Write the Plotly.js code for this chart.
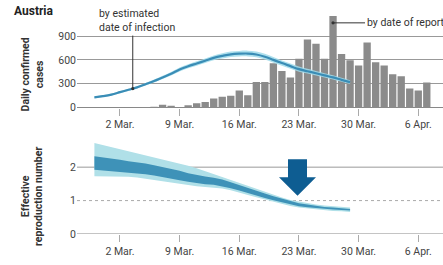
<!DOCTYPE html>
<html>
<head>
<meta charset="utf-8">
<script src="https://cdn.plot.ly/plotly-3.0.1.min.js"></script>
<style>html,body{margin:0;padding:0;background:#fff;}#chart{width:443px;height:265px;}</style>
</head>
<body>
<div id="chart"></div>
<script>
// ---- data ----
const barStart = '2020-02-27';
const reportedCases = [1,2,3,2,4,3,5,6,12,37,25,3,30,55,71,117,137,150,215,157,323,323,559,461,380,615,857,802,615,1150,675,596,530,817,571,530,421,396,242,217,317];
const curveStart = '2020-02-28';
const infectionCases = [130,145,165,195,225,255,295,335,380,425,480,520,555,590,625,650,670,678,680,668,640,600,560,522,484,458,432,405,380,350,322];
const infectionUpper = [140,155,177,207,239,270,311,353,400,447,504,545,582,618,655,682,704,713,716,704,676,635,594,555,516,488,460,432,406,375,346];
const infectionLower = [120,135,153,183,211,240,279,317,360,403,456,495,528,562,595,618,636,643,644,632,604,565,526,489,452,428,404,378,354,325,298];
const rDarkLow  = [1.92,1.90,1.88,1.86,1.84,1.82,1.79,1.75,1.71,1.66,1.61,1.56,1.52,1.49,1.47,1.43,1.37,1.30,1.22,1.15,1.08,1.01,0.95,0.88,0.83,0.80,0.77,0.75,0.73,0.72,0.70];
const rDarkHigh = [2.33,2.30,2.26,2.22,2.18,2.15,2.11,2.06,2.01,1.95,1.89,1.82,1.76,1.72,1.68,1.63,1.55,1.46,1.37,1.29,1.21,1.13,1.06,0.98,0.92,0.88,0.84,0.81,0.79,0.77,0.75];
const rLightLow = [1.73,1.73,1.72,1.72,1.71,1.69,1.66,1.62,1.58,1.54,1.50,1.46,1.43,1.41,1.39,1.36,1.31,1.25,1.17,1.10,1.03,0.96,0.90,0.84,0.79,0.76,0.73,0.71,0.69,0.68,0.66];
const rLightHigh= [2.72,2.66,2.60,2.54,2.48,2.42,2.36,2.30,2.24,2.17,2.10,2.04,1.97,1.88,1.80,1.72,1.63,1.53,1.44,1.35,1.26,1.17,1.09,1.02,0.97,0.92,0.88,0.85,0.83,0.81,0.79];
const tickDates = ['2020-03-02','2020-03-09','2020-03-16','2020-03-23','2020-03-30','2020-04-06'];
const tickText = ['2 Mar.','9 Mar.','16 Mar.','23 Mar.','30 Mar.','6 Apr.'];
const casesTicks = [0,300,600,900];
const rTicks = [0,1,2];

function days(start, n){
  const out=[]; const d0=new Date(start+'T00:00:00Z');
  for(let i=0;i<n;i++){const d=new Date(d0.getTime()+i*86400000);out.push(d.toISOString().slice(0,10));}
  return out;
}
const barDates = days(barStart, reportedCases.length);
const curveDates = days(curveStart, infectionCases.length);

const FONT = 'Roboto, "Open Sans", sans-serif';
const xr = ['2020-02-25 23:00','2020-04-08 21:40'];

const traces = [
  {type:'bar', x:barDates, y:reportedCases, xaxis:'x', yaxis:'y', marker:{color:'#8b8b8b'}, hoverinfo:'skip'},
  {type:'scatter', mode:'lines', x:curveDates, y:infectionLower, xaxis:'x', yaxis:'y', line:{width:0, shape:'spline'}, hoverinfo:'skip'},
  {type:'scatter', mode:'lines', x:curveDates, y:infectionUpper, xaxis:'x', yaxis:'y', line:{width:0, shape:'spline'}, fill:'tonexty', fillcolor:'rgba(160,218,234,0.85)', hoverinfo:'skip'},
  {type:'scatter', mode:'lines', x:curveDates, y:infectionCases, xaxis:'x', yaxis:'y', line:{width:2.2, color:'#3a8db6', shape:'spline'}, hoverinfo:'skip'},
  {type:'scatter', mode:'lines', x:curveDates, y:rLightLow, xaxis:'x2', yaxis:'y2', line:{width:0}, hoverinfo:'skip'},
  {type:'scatter', mode:'lines', x:curveDates, y:rLightHigh, xaxis:'x2', yaxis:'y2', line:{width:0}, fill:'tonexty', fillcolor:'#b0e0e8', hoverinfo:'skip'},
  {type:'scatter', mode:'lines', x:curveDates, y:rDarkLow, xaxis:'x2', yaxis:'y2', line:{width:0}, hoverinfo:'skip'},
  {type:'scatter', mode:'lines', x:curveDates, y:rDarkHigh, xaxis:'x2', yaxis:'y2', line:{width:0}, fill:'tonexty', fillcolor:'#3e92b8', hoverinfo:'skip'}
];

const tickFont = {family:FONT, size:10.5, color:'#444'};
const xCommon = {range:xr, type:'date', tickvals:tickDates, ticktext:tickText, ticks:'outside', ticklen:7, tickcolor:'#aaa', tickwidth:1, showgrid:false, zeroline:false, showline:false, tickfont:tickFont, fixedrange:true};

const shapes = [];
rTicks.forEach(v=>{
  shapes.push({type:'line', xref:'x2 domain', yref:'y2', x0:0, x1:1, y0:v, y1:v, layer:'below',
    line:{color: v===1 ? '#aaa' : (v===0 ? '#888' : '#999'), width:1, dash: v===1 ? 'dot' : 'solid'}});
});
// arrow marker
shapes.push({type:'path', xref:'paper', yref:'paper', layer:'above', fillcolor:'#0e5d92', line:{width:0},
  path:'M 0.5765 0.3395 L 0.6284 0.3395 L 0.6284 0.2577 L 0.6530 0.2577 L 0.6025 0.1741 L 0.5519 0.2577 L 0.5765 0.2577 Z'});

const peakIdx = reportedCases.indexOf(Math.max(...reportedCases));
const annotations = [
  {xref:'paper', yref:'paper', x:-0.178, y:1.014, xanchor:'left', yanchor:'middle', text:'<b>Austria</b>', showarrow:false, font:{family:FONT, size:12, color:'#222'}},
  {xref:'paper', yref:'paper', x:-0.122, y:0.727, xanchor:'center', yanchor:'middle', text:'<b>Daily confirmed<br>cases</b>', textangle:-90, showarrow:false, font:{family:FONT, size:10.5, color:'#333'}},
  {xref:'paper', yref:'paper', x:-0.122, y:0.170, xanchor:'center', yanchor:'middle', text:'<b>Effective<br>reproduction number</b>', textangle:-90, showarrow:false, font:{family:FONT, size:10.5, color:'#333'}},
  {xref:'paper', yref:'paper', x:0.055, y:0.970, xanchor:'left', yanchor:'middle', align:'left', text:'by estimated<br>date of infection', showarrow:false, font:{family:FONT, size:10.5, color:'#333'}},
  {xref:'x', yref:'y', x:'2020-03-03 12:00', y:(infectionCases[4]+infectionCases[5])/2, text:' ', showarrow:true, ax:0, ay:-55, arrowhead:6, arrowsize:0.8, arrowwidth:1, arrowcolor:'#333', font:{size:1}},
  {xref:'x', yref:'y', x:barDates[peakIdx], y:1065, text:'by date of report', xanchor:'left', showarrow:true, ax:32, ay:0, arrowhead:6, arrowsize:0.8, arrowwidth:1, arrowcolor:'#333', font:{family:FONT, size:10.5, color:'#333'}}
];

const layout = {
  width:443, height:265, margin:{l:77, r:0, t:14, b:31},
  paper_bgcolor:'#fff', plot_bgcolor:'#fff', showlegend:false, bargap:0.14,
  xaxis: Object.assign({anchor:'y', domain:[0,1]}, xCommon),
  xaxis2: Object.assign({anchor:'y2', domain:[0,1]}, xCommon),
  yaxis: {domain:[0.574,1], range:[0,1176], tickvals:casesTicks, showgrid:true, gridcolor:'#999', gridwidth:1, zeroline:true, zerolinecolor:'#888', zerolinewidth:1.2, ticks:'', tickfont:tickFont, fixedrange:true},
  yaxis2: {domain:[0,0.436], range:[0,2.87], tickvals:rTicks, showgrid:false, zeroline:false, ticks:'', tickfont:tickFont, fixedrange:true},
  shapes:shapes, annotations:annotations
};
Plotly.newPlot('chart', traces, layout, {staticPlot:true, displayModeBar:false});
</script>
</body>
</html>
